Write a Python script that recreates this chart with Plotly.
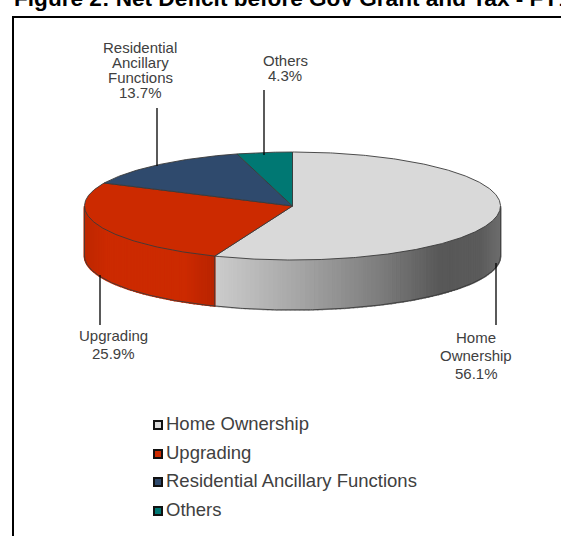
import math
import plotly.graph_objects as go

categories = ["Home Ownership", "Upgrading", "Residential Ancillary Functions", "Others"]
shares = [56.1, 25.9, 13.7, 4.3]
top_colors = ["#d9d9d9", "#cc2a00", "#2f4a6d", "#007873"]
title_text = "Figure 2: Net Deficit before Gov Grant and Tax - FY12"
label_lines = [
    ["Home", "Ownership", "56.1%"],
    ["Upgrading", "25.9%"],
    ["Residential", "Ancillary", "Functions", "13.7%"],
    ["Others", "4.3%"],
]

CX, CY, RX, RY, DEPTH = 292.5, 206, 208, 54, 50
INK = "#404040"
LINE = "#3a3a3a"


def ellipse(t, dy=0):
    r = math.radians(t)
    return CX + RX * math.sin(r), CY - RY * math.cos(r) + dy


def arc(a, b, dy=0):
    n = max(2, int(abs(b - a) * 2))
    pts = [ellipse(a + (b - a) * i / n, dy) for i in range(n + 1)]
    return [p[0] for p in pts], [p[1] for p in pts]


def lerp_stops(x, stops):
    if x <= stops[0][0]:
        return stops[0][1]
    for (x0, c0), (x1, c1) in zip(stops, stops[1:]):
        if x <= x1:
            f = (x - x0) / (x1 - x0)
            return tuple(c0[i] + (c1[i] - c0[i]) * f for i in range(3))
    return stops[-1][1]


gray_stops = [(215, (204, 204, 204)), (300, (165, 165, 165)), (380, (125, 125, 125)),
              (440, (88, 88, 88)), (480, (92, 92, 92)), (502, (112, 112, 112))]
red_stops = [(84, (190, 40, 0)), (105, (204, 42, 0)), (185, (204, 42, 0)), (215, (184, 36, 0))]

fig = go.Figure()

edges = [0.0]
for s in shares:
    edges.append(edges[-1] + s * 3.6)

for idx, stops in [(0, gray_stops), (1, red_stops)]:
    a = max(edges[idx], 90)
    b = min(edges[idx + 1], 270)
    n = int((b - a) * 0.8)
    for i in range(n):
        t0 = a + (b - a) * i / n
        t1 = a + (b - a) * (i + 1) / n
        x0, y0 = ellipse(t0)
        x1, y1 = ellipse(t1)
        c = lerp_stops((x0 + x1) / 2, stops)
        col = "rgb(%d,%d,%d)" % c
        fig.add_trace(go.Scatter(x=[x0, x1, x1, x0, x0],
                                 y=[y0, y1, y1 + DEPTH, y0 + DEPTH, y0],
                                 mode="lines", fill="toself", fillcolor=col,
                                 line=dict(color=col, width=1.6),
                                 hoverinfo="skip", showlegend=False))

bx, by = arc(90, 270, DEPTH)
fig.add_trace(go.Scatter(x=bx, y=by, mode="lines", line=dict(color=LINE, width=0.9),
                         hoverinfo="skip", showlegend=False))
for t in (90, edges[1], 270):
    x0, y0 = ellipse(t)
    fig.add_trace(go.Scatter(x=[x0, x0], y=[y0, y0 + DEPTH], mode="lines",
                             line=dict(color=LINE, width=0.8),
                             hoverinfo="skip", showlegend=False))

for i, name in enumerate(categories):
    ax, ay = arc(edges[i], edges[i + 1])
    fig.add_trace(go.Scatter(x=[CX] + ax + [CX], y=[CY] + ay + [CY], mode="lines",
                             fill="toself", fillcolor=top_colors[i],
                             line=dict(color=LINE, width=0.9),
                             name=name, showlegend=False))

leaders = [(496, 263, 325), (100, 275, 325), (157, 108, 166), (264, 90, 155)]
for x, y0, y1 in leaders:
    fig.add_trace(go.Scatter(x=[x, x], y=[y0, y1], mode="lines",
                             line=dict(color="#000000", width=1.3),
                             hoverinfo="skip", showlegend=False))

fig.add_trace(go.Scatter(x=[13, 13, 561], y=[536, 17, 17], mode="lines",
                         line=dict(color="#000000", width=2),
                         hoverinfo="skip", showlegend=False))

legend_y = [425, 454, 482, 511]
for name, col, y in zip(categories, top_colors, legend_y):
    fig.add_trace(go.Scatter(x=[158], y=[y], mode="markers",
                             marker=dict(symbol="square", size=8, color=col,
                                         line=dict(color="#111111", width=2)),
                             hoverinfo="skip", showlegend=False))
    fig.add_trace(go.Scatter(x=[166], y=[y], mode="text", text=[name],
                             textposition="middle right",
                             textfont=dict(family="Liberation Sans", size=18.5, color=INK),
                             hoverinfo="skip", showlegend=False))

annotations = [dict(xref="paper", yref="paper", x=12 / 561, y=1 - 13 / 536,
                    xanchor="left", yanchor="bottom", text="<b>" + title_text + "</b>",
                    showarrow=False, font=dict(family="Liberation Sans", size=22.6, color="#000000"))]

label_pos = [(476, 337), (113, 335), (140, 47), (285, 60)]
for lines, (lx, ly) in zip(label_lines, label_pos):
    step = 18.3 if ly > 300 else 15
    for k, ln in enumerate(lines):
        annotations.append(dict(x=lx, y=ly + k * step, xref="x", yref="y",
                                xanchor="center", yanchor="middle", text=ln, showarrow=False,
                                font=dict(family="Liberation Sans", size=15, color=INK)))

fig.update_layout(width=561, height=536, margin=dict(l=0, r=0, t=0, b=0),
                  paper_bgcolor="white", plot_bgcolor="white", showlegend=False,
                  xaxis=dict(range=[0, 561], visible=False, fixedrange=True),
                  yaxis=dict(range=[536, 0], visible=False, fixedrange=True),
                  annotations=annotations)
fig.write_html("out.html", config=dict(displayModeBar=False),
               post_script="document.body.style.margin='0';document.body.style.overflow='hidden';")
